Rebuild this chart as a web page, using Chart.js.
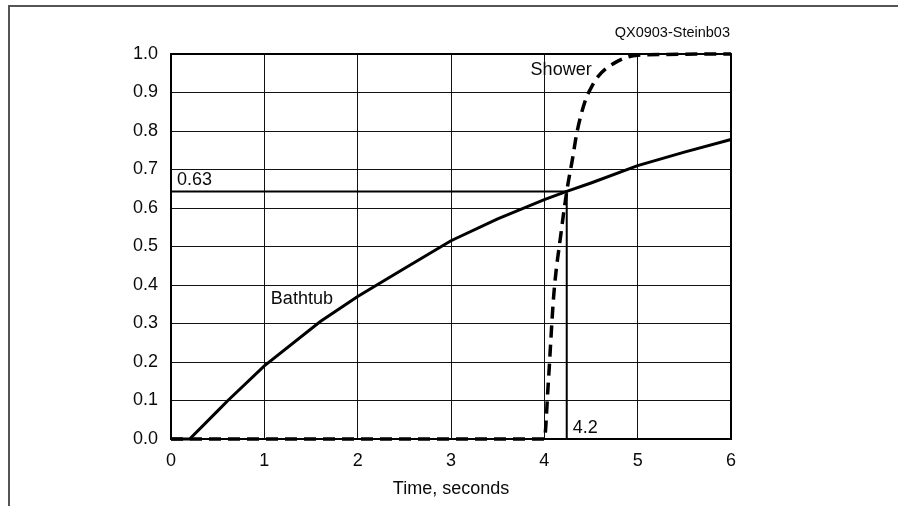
<!DOCTYPE html>
<html>
<head>
<meta charset="utf-8">
<script src="https://cdn.jsdelivr.net/npm/chart.js@4.4.1/dist/chart.umd.min.js"></script>
<style>
  html, body { margin: 0; padding: 0; background: #ffffff; }
  #wrap { width: 898px; height: 506px; position: relative; }
</style>
</head>
<body>
<div id="wrap"><canvas id="c" width="898" height="506"></canvas></div>
<script>
// ---- data ----
const xTickLabels = ['0', '1', '2', '3', '4', '5', '6'];
const yTickLabels = ['0.0', '0.1', '0.2', '0.3', '0.4', '0.5', '0.6', '0.7', '0.8', '0.9', '1.0'];

const bathtubX = [0, 0.2, 0.5, 0.61, 1.0, 1.6, 2.0, 2.5, 3.0, 3.5, 4.0, 4.24, 4.5, 5.0, 5.5, 6.0];
const bathtubY = [0, 0, 0.073, 0.10, 0.19, 0.305, 0.37, 0.443, 0.515, 0.572, 0.622, 0.643, 0.665, 0.71, 0.745, 0.778];

const showerX = [0, 4.0, 4.04, 4.10, 4.18, 4.24, 4.30, 4.35, 4.44, 4.49, 4.57, 4.74, 5.0, 6.0];
const showerY = [0, 0, 0.136, 0.371, 0.537, 0.643, 0.725, 0.797, 0.88, 0.907, 0.94, 0.975, 0.997, 1.0];

const markerX = [0, 4.24, 4.24];
const markerY = [0.643, 0.643, 0];

const labelText = { shower: 'Shower', bathtub: 'Bathtub', level: '0.63', time: '4.2', code: 'QX0903-Steinb03' };
const axisTitle = 'Time, seconds';

const toPts = (xs, ys) => xs.map((x, i) => ({ x: x, y: ys[i] }));

const FONT = 'Liberation Sans, Arial, Helvetica, sans-serif';
const INK = '#0a0a0a';

const framePlugin = {
  id: 'frame',
  beforeDraw(chart) {
    const ctx = chart.ctx;
    ctx.save();
    ctx.strokeStyle = '#555555';
    ctx.lineWidth = 2;
    ctx.beginPath();
    ctx.moveTo(9, 506);
    ctx.lineTo(9, 6);
    ctx.lineTo(898, 6);
    ctx.stroke();
    ctx.restore();
  },
  beforeDatasetsDraw(chart) {
    const a = chart.chartArea;
    const ctx = chart.ctx;
    ctx.save();
    ctx.strokeStyle = '#000000';
    ctx.lineWidth = 2;
    ctx.strokeRect(a.left, a.top, a.right - a.left, a.bottom - a.top);
    ctx.restore();
  },
  afterDraw(chart) {
    const xs = chart.scales.x, ys = chart.scales.y;
    const ctx = chart.ctx;
    ctx.save();
    ctx.fillStyle = INK;
    ctx.textBaseline = 'middle';
    ctx.font = '18px ' + FONT;
    ctx.textAlign = 'left';
    ctx.fillText(labelText.level, xs.getPixelForValue(0) + 6, ys.getPixelForValue(markerY[0]) - 11);
    ctx.fillText(labelText.time, xs.getPixelForValue(markerX[1]) + 6, ys.getPixelForValue(0) - 11);
    ctx.fillText(labelText.bathtub, xs.getPixelForValue(1.07), ys.getPixelForValue(0.364));
    ctx.textAlign = 'center';
    ctx.fillText(labelText.shower, xs.getPixelForValue(4.18), ys.getPixelForValue(0.958));
    ctx.font = '14.5px ' + FONT;
    ctx.textAlign = 'right';
    ctx.fillText(labelText.code, chart.chartArea.right - 1, chart.chartArea.top - 21);
    ctx.restore();
  }
};

new Chart(document.getElementById('c'), {
  type: 'line',
  data: {
    datasets: [
      {
        label: 'Shower',
        data: toPts(showerX, showerY),
        borderColor: '#000000',
        borderWidth: 3.5,
        borderDash: [12, 7],
        pointRadius: 0,
        cubicInterpolationMode: 'monotone',
        fill: false,
        clip: 6
      },
      {
        label: 'Bathtub',
        data: toPts(bathtubX, bathtubY),
        borderColor: '#000000',
        borderWidth: 3,
        pointRadius: 0,
        tension: 0,
        fill: false,
        clip: 6
      },
      {
        label: 'marker',
        data: toPts(markerX, markerY),
        borderColor: '#000000',
        borderWidth: 2,
        pointRadius: 0,
        tension: 0,
        fill: false,
        clip: 6
      }
    ]
  },
  options: {
    responsive: false,
    animation: false,
    events: [],
    layout: { padding: { left: 0, top: 54, right: 167, bottom: 0 } },
    plugins: { legend: { display: false }, tooltip: { enabled: false } },
    scales: {
      x: {
        type: 'linear',
        min: 0, max: 6,
        afterFit(scale) { scale.height = 67; },
        grid: { color: '#111111', lineWidth: 1, drawTicks: false },
        border: { display: true, color: '#000000', width: 2 },
        ticks: {
          stepSize: 1,
          padding: 11,
          color: INK,
          font: { family: FONT, size: 18 },
          callback: (v) => xTickLabels[Math.round(v)]
        },
        title: {
          display: true,
          text: axisTitle,
          color: INK,
          font: { family: FONT, size: 18 },
          padding: { top: 0, bottom: 6 }
        }
      },
      y: {
        type: 'linear',
        min: 0, max: 1,
        afterFit(scale) { scale.width = 171; },
        grid: { color: '#111111', lineWidth: 1, drawTicks: false },
        border: { display: true, color: '#000000', width: 2 },
        ticks: {
          stepSize: 0.1,
          padding: 13,
          color: INK,
          font: { family: FONT, size: 18 },
          callback: (v) => yTickLabels[Math.round(v * 10)]
        }
      }
    }
  },
  plugins: [framePlugin]
});
</script>
</body>
</html>
